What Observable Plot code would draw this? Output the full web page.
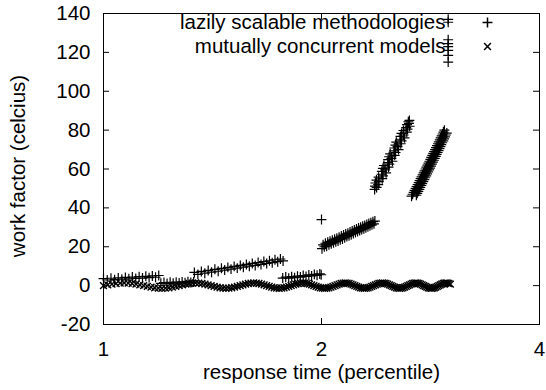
<!DOCTYPE html>
<html>
<head>
<meta charset="utf-8">
<script src="https://cdn.jsdelivr.net/npm/d3@7"></script>
<script src="https://cdn.jsdelivr.net/npm/@observablehq/plot@0.6"></script>
<style>
  html, body { margin: 0; padding: 0; background: #fff; }
</style>
</head>
<body>
<div id="chart"></div>
<script>
// ---- tick labels / text ----
const xTicks = [1, 2, 4];
const yTicks = [-20, 0, 20, 40, 60, 80, 100, 120, 140];
const seriesNames = ["lazily scalable methodologies", "mutually concurrent models"];
const xLabel = "response time (percentile)";
const yLabel = "work factor (celcius)";

// ---- series 1: "lazily scalable methodologies" (+) ----
const segA = [[1.000,3.6],[1.012,2.9],[1.024,3.8],[1.036,3.1],[1.048,4.0],[1.060,3.3],[1.072,4.2],[1.084,3.5],[1.096,4.4],[1.108,3.7],[1.120,4.6],[1.132,3.9],[1.144,4.8],[1.156,4.1],[1.168,5.0],[1.180,4.3],[1.192,5.2]];
const segB = [[1.200,1.2],[1.212,1.6],[1.224,1.1],[1.236,1.7],[1.248,1.3],[1.260,1.8],[1.272,1.4],[1.284,1.9],[1.296,1.5],[1.308,2.0],[1.320,1.6],[1.332,1.9]];
const segC = [[1.335,6.8],[1.350,5.8],[1.365,7.3],[1.380,6.4],[1.395,7.8],[1.410,6.9],[1.425,8.4],[1.440,7.4],[1.455,8.9],[1.470,8.0],[1.485,9.4],[1.500,8.5],[1.515,9.9],[1.530,9.0],[1.545,10.4],[1.560,9.5],[1.575,10.9],[1.590,10.0],[1.605,11.4],[1.620,10.4],[1.635,11.9],[1.650,10.9],[1.665,12.4],[1.680,11.4],[1.695,12.8],[1.710,11.8],[1.725,13.3],[1.740,12.3],[1.755,13.7],[1.770,12.7]];
const segD = [[1.768,3.9],[1.785,4.4],[1.802,3.8],[1.819,4.6],[1.836,4.1],[1.853,4.9],[1.870,4.4],[1.887,5.2],[1.904,4.7],[1.921,5.5],[1.938,5.0],[1.955,5.8],[1.972,5.3],[1.989,6.0],[1.998,5.6]];
const segE = [[2.003,19.0],[2.010,21.0],[2.018,20.0],[2.025,21.8],[2.033,20.3],[2.040,22.3],[2.048,21.0],[2.055,22.8],[2.063,21.5],[2.070,23.4],[2.078,22.0],[2.085,23.9],[2.093,22.6],[2.100,24.4],[2.108,23.0],[2.115,24.9],[2.123,23.6],[2.130,25.5],[2.138,24.0],[2.145,26.0],[2.153,24.6],[2.160,26.6],[2.168,25.2],[2.175,27.0],[2.183,25.7],[2.190,27.6],[2.198,26.2],[2.205,28.1],[2.213,26.8],[2.220,28.6],[2.228,27.3],[2.235,29.1],[2.243,27.8],[2.250,29.6],[2.258,28.3],[2.265,30.0],[2.273,28.8],[2.280,30.5],[2.288,29.3],[2.295,31.0],[2.303,29.8],[2.310,31.5],[2.318,30.3],[2.325,32.0],[2.333,30.8],[2.340,32.4],[2.348,31.3],[2.355,32.9],[2.363,31.8],[2.370,33.2]];
const outlier = [[2.000,34.0]];
const segF = [[2.368,49.5],[2.383,50.5],[2.371,51.2],[2.395,52.0],[2.374,52.8],[2.400,53.5],[2.382,54.3],[2.426,55.0],[2.398,55.8],[2.432,56.5],[2.421,57.3],[2.456,58.0],[2.423,58.8],[2.449,59.5],[2.431,60.3],[2.475,61.0],[2.439,61.8],[2.481,62.5],[2.470,63.3],[2.506,64.0],[2.472,64.8],[2.498,65.5],[2.480,66.3],[2.524,67.0],[2.488,67.8],[2.531,68.5],[2.519,69.3],[2.555,70.0],[2.521,70.8],[2.547,71.5],[2.530,72.3],[2.573,73.0],[2.537,73.8],[2.580,74.5],[2.568,75.3],[2.604,76.0],[2.571,76.8],[2.596,77.5],[2.579,78.3],[2.623,79.0],[2.595,79.8],[2.629,80.5],[2.618,81.3],[2.647,82.0],[2.625,82.8],[2.641,83.5],[2.636,84.3],[2.645,85.0]];
const segG = [[2.663,46],[2.672,47],[2.681,48],[2.689,49],[2.698,50],[2.706,51],[2.715,52],[2.724,53],[2.732,54],[2.741,55],[2.749,56],[2.758,57],[2.767,58],[2.775,59],[2.784,60],[2.792,61],[2.801,62],[2.810,63],[2.818,64],[2.827,65],[2.835,66],[2.844,67],[2.853,68],[2.861,69],[2.870,70],[2.878,71],[2.887,72],[2.896,73],[2.904,74],[2.913,75],[2.921,76],[2.930,77],[2.939,78],[2.947,79],[2.956,80],
  [2.704,46.5],[2.712,47.5],[2.721,48.5],[2.730,49.5],[2.738,50.5],[2.747,51.5],[2.755,52.5],[2.764,53.5],[2.773,54.5],[2.781,55.5],[2.790,56.5],[2.798,57.5],[2.807,58.5],[2.816,59.5],[2.824,60.5],[2.833,61.5],[2.841,62.5],[2.850,63.5],[2.859,64.5],[2.867,65.5],[2.876,66.5],[2.884,67.5],[2.893,68.5],[2.902,69.5],[2.910,70.5],[2.919,71.5],[2.927,72.5],[2.936,73.5],[2.945,74.5],[2.953,75.5],[2.962,76.5],[2.970,77.5],[2.979,78.5]];
const segH = [[2.992,115],[2.992,118.5],[2.992,121],[2.992,123],[2.992,124.5],[2.992,126.5],[2.992,135.5],[2.992,137]];

// ---- series 2: "mutually concurrent models" (x) ----
const waveX = [1.0000,1.0136,1.0272,1.0408,1.0544,1.0680,1.0816,1.0952,1.1088,1.1224,1.1360,1.1496,1.1632,1.1768,1.1904,1.2040,1.2176,1.2312,1.2448,1.2584,
  1.2720,1.2856,1.2992,1.3128,1.3264,1.3400,1.3536,1.3672,1.3808,1.3944,1.4080,1.4216,1.4352,1.4488,1.4624,1.4760,1.4896,1.5032,1.5168,1.5304,
  1.5440,1.5576,1.5712,1.5848,1.5984,1.6120,1.6256,1.6392,1.6528,1.6664,1.6800,1.6936,1.7072,1.7208,1.7344,1.7480,1.7616,1.7752,1.7888,1.8024,
  1.8160,1.8296,1.8432,1.8568,1.8704,1.8840,1.8976,1.9112,1.9248,1.9384,1.9520,1.9656,1.9792,1.9928,2.0064,2.0200,2.0336,2.0472,2.0608,2.0744,
  2.0880,2.1016,2.1152,2.1288,2.1424,2.1560,2.1696,2.1832,2.1968,2.2104,2.2240,2.2376,2.2512,2.2648,2.2784,2.2920,2.3056,2.3192,2.3328,2.3464,
  2.3600,2.3736,2.3872,2.4008,2.4144,2.4280,2.4416,2.4552,2.4688,2.4824,2.4960,2.5096,2.5232,2.5368,2.5504,2.5640,2.5776,2.5912,2.6048,2.6184,
  2.6320,2.6456,2.6592,2.6728,2.6864,2.7000,2.7136,2.7272,2.7408,2.7544,2.7680,2.7816,2.7952,2.8088,2.8224,2.8360,2.8496,2.8632,2.8768,2.8904,
  2.9040,2.9176,2.9312,2.9448,2.9584,2.9720,2.9856,2.9992,3.0128];
const waveY = [0,0.4,0.8,1.1,1.3,1.4,1.3,1.1,0.8,0.4,0,-0.4,-0.8,-1.1,-1.3,-1.4,-1.3,-1.1,-0.8,-0.4,
  0,0.4,0.8,1.1,1.3,1.4,1.3,1.1,0.8,0.4,0,-0.4,-0.8,-1.1,-1.3,-1.4,-1.3,-1.1,-0.8,-0.4,
  0,0.4,0.8,1.1,1.3,1.4,1.3,1.1,0.8,0.4,0,-0.4,-0.8,-1.1,-1.3,-1.4,-1.3,-1.1,-0.8,-0.4,
  0,0.4,0.8,1.1,1.3,1.4,1.3,1.1,0.8,0.4,0,-0.4,-0.8,-1.1,-1.3,-1.4,-1.3,-1.1,-0.8,-0.4,
  0,0.4,0.8,1.1,1.3,1.4,1.3,1.1,0.8,0.4,0,-0.4,-0.8,-1.1,-1.3,-1.4,-1.3,-1.1,-0.8,-0.4,
  0,0.4,0.8,1.1,1.3,1.4,1.3,1.1,0.8,0.4,0,-0.4,-0.8,-1.1,-1.3,-1.4,-1.3,-1.1,-0.8,-0.4,
  0,0.4,0.8,1.1,1.3,1.4,1.3,1.1,0.8,0.4,0,-0.4,-0.8,-1.1,-1.3,-1.4,-1.3,-1.1,-0.8,-0.4,
  0,0.4,0.8,1.1,1.3,1.4,1.3,1.1,0.8];

// ---- build tables ----
const lazy = [...segA, ...segB, ...segC, ...segD, ...segE, ...outlier, ...segF, ...segG, ...segH]
  .map(([x, y]) => ({x, y}));
const concurrent = waveX.map((x, i) => ({x, y: waveY[i]}));

const FONT = "'Liberation Sans', Arial, Helvetica, sans-serif";
const FS = 20.5;
const frameW = 546 - 103 - 7;
const frameH = 390 - 13 - 66;
const tick = 6;

const chart = Plot.plot({
  width: 546,
  height: 390,
  marginLeft: 103,
  marginRight: 7,
  marginTop: 13,
  marginBottom: 66,
  style: {fontFamily: FONT, fontSize: FS + "px", background: "#fff", color: "#000"},
  x: {type: "log", domain: [1, 4], axis: null},
  y: {domain: [-20, 140], axis: null},
  marks: [
    Plot.frame({stroke: "#000"}),
    Plot.tickY(yTicks, {y: d => d, insetRight: frameW - tick, stroke: "#000"}),
    Plot.tickY(yTicks, {y: d => d, insetLeft: frameW - tick, stroke: "#000"}),
    Plot.tickX(xTicks, {x: d => d, insetTop: frameH - tick, stroke: "#000"}),
    Plot.tickX(xTicks, {x: d => d, insetBottom: frameH - tick, stroke: "#000"}),
    Plot.text(yTicks, {y: d => d, text: d => String(d), frameAnchor: "left", textAnchor: "end", lineAnchor: "middle", dx: -13, fontSize: FS}),
    Plot.text(xTicks, {x: d => d, text: d => String(d), frameAnchor: "bottom", textAnchor: "middle", lineAnchor: "middle", dy: 25, fontSize: FS}),
    Plot.dot(lazy, {x: "x", y: "y", symbol: "plus", r: 3.3, stroke: "#000", strokeWidth: 1.2}),
    Plot.dot(concurrent, {x: "x", y: "y", symbol: "times", r: 3.2, stroke: "#000", strokeWidth: 1.4}),
    // legend
    Plot.text([seriesNames[0]], {text: d => d, frameAnchor: "top-right", textAnchor: "end", lineAnchor: "middle", dx: -94, dy: 9, fontSize: FS}),
    Plot.text([seriesNames[1]], {text: d => d, frameAnchor: "top-right", textAnchor: "end", lineAnchor: "middle", dx: -94, dy: 33, fontSize: FS}),
    Plot.dot([seriesNames[0]], {frameAnchor: "top-right", dx: -52, dy: 9, symbol: "plus", r: 3.3, stroke: "#000"}),
    Plot.dot([seriesNames[1]], {frameAnchor: "top-right", dx: -52, dy: 33, symbol: "times", r: 3.2, stroke: "#000"}),
    // axis titles
    Plot.text([yLabel], {text: d => d, frameAnchor: "left", textAnchor: "middle", lineAnchor: "middle", rotate: -90, dx: -85, dy: -3, fontSize: FS}),
    Plot.text([xLabel], {text: d => d, frameAnchor: "bottom", textAnchor: "middle", lineAnchor: "middle", dy: 48, fontSize: FS})
  ]
});
document.getElementById("chart").appendChild(chart);
</script>
</body>
</html>
